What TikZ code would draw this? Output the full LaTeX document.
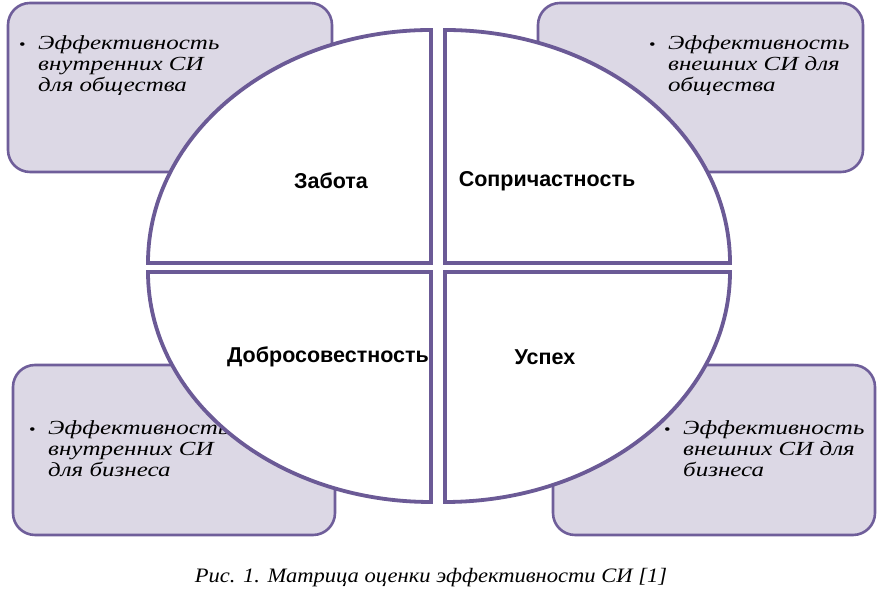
\documentclass[tikz,border=0pt]{standalone}
\usepackage{fontspec}
\setmainfont{Liberation Serif}
\newfontfamily\wideserif[FakeStretch=1.25]{Liberation Serif}
\newfontfamily\captserif[FakeStretch=1.1]{Liberation Serif}
\newfontfamily\lsans{Liberation Sans}
\definecolor{boxfill}{HTML}{DCD8E5}
\definecolor{boxline}{HTML}{6F5E9A}
\definecolor{quadline}{HTML}{6B5A96}
\begin{document}
\begin{tikzpicture}[x=1pt,y=1pt,
  box/.style={draw=boxline, line width=2.6pt, fill=boxfill, rounded corners=22pt},
  quad/.style={draw=quadline, line width=3.8pt, fill=white, line join=miter},
  itemtext/.style={anchor=base west, inner sep=0pt, font=\wideserif\fontsize{20}{21}\selectfont\itshape},
  lab/.style={inner sep=0pt, font=\lsans\bfseries\fontsize{21.5}{24}\selectfont},
  capt/.style={inner sep=0pt, font=\captserif\fontsize{20.5}{24}\selectfont\itshape}]
\useasboundingbox (0,0) rectangle (881,593);
\fill[white] (0,0) rectangle (881,593);
% corner boxes
\draw[box] (8,421) rectangle (332,590);
\draw[box] (538,421) rectangle (863,590);
\draw[box] (13,58) rectangle (335,228);
\draw[box] (553,58) rectangle (875,228);
% box texts
\node[itemtext] (ttl) at (19,543) {\begin{tabular}[t]{@{}l@{}l@{}}\makebox[19pt][l]{\fontsize{15}{15}\selectfont\upshape\textbullet} & Эффективность\\ & внутренних СИ\\ & для общества\end{tabular}};
\node[itemtext] (ttr) at (649,543) {\begin{tabular}[t]{@{}l@{}l@{}}\makebox[19pt][l]{\fontsize{15}{15}\selectfont\upshape\textbullet} & Эффективность\\ & внешних СИ для\\ & общества\end{tabular}};
\node[itemtext] (tbl) at (29,158) {\begin{tabular}[t]{@{}l@{}l@{}}\makebox[19pt][l]{\fontsize{15}{15}\selectfont\upshape\textbullet} & Эффективность\\ & внутренних СИ\\ & для бизнеса\end{tabular}};
\node[itemtext] (tbr) at (664,158) {\begin{tabular}[t]{@{}l@{}l@{}}\makebox[19pt][l]{\fontsize{15}{15}\selectfont\upshape\textbullet} & Эффективность\\ & внешних СИ для\\ & бизнеса\end{tabular}};
% quadrants
\draw[quad] (431,330) -- (148,330) arc[start angle=180, end angle=90, x radius=283pt, y radius=233pt] -- cycle;
\draw[quad] (445,330) -- (730,330) arc[start angle=0, end angle=90, x radius=285pt, y radius=233pt] -- cycle;
\draw[quad] (431,321) -- (148,321) arc[start angle=180, end angle=270, x radius=283pt, y radius=230pt] -- cycle;
\draw[quad] (445,321) -- (730,321) arc[start angle=0, end angle=-90, x radius=285pt, y radius=230pt] -- cycle;
% labels
\node[lab] (zab) at (331,412) {Забота};
\node[lab] (sop) at (547,412) {Сопричастность};
\node[lab] (dob) at (328,236) {Добросовестность};
\node[lab] (usp) at (545,236) {Успех};
% caption
\node[capt] (cap) at (431,15) {Рис. 1. Матрица оценки эффективности СИ [1]};
\end{tikzpicture}
\end{document}
